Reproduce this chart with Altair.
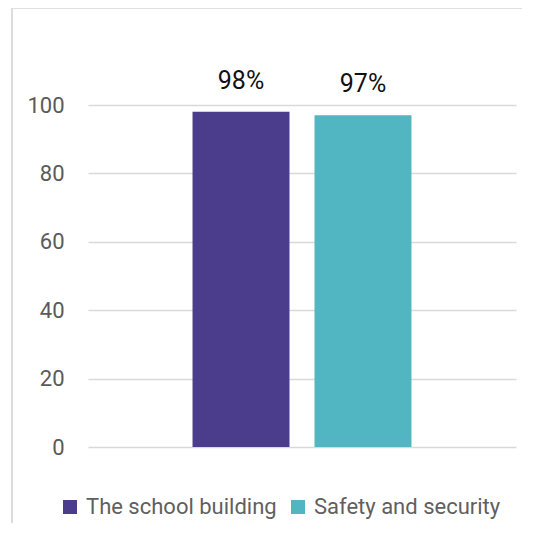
import altair as alt
import pandas as pd

categories = ["The school building", "Safety and security"]
values = [98, 97]
labels = ["98%", "97%"]
colors = ["#4b3d8c", "#52b5c2"]
y_ticks = [0, 20, 40, 60, 80, 100]

df = pd.DataFrame({"cat": categories, "val": values, "lab": labels})

FONT = "Roboto"

x_enc = alt.X("cat:N", sort=categories, axis=None,
              scale=alt.Scale(paddingInner=0.205, paddingOuter=0.857))

bars = alt.Chart(df).mark_bar().encode(
    x=x_enc,
    y=alt.Y("val:Q", scale=alt.Scale(domain=[0, 100], nice=False),
            axis=alt.Axis(values=y_ticks, title=None, domain=False, ticks=False,
                          labelFontSize=22, labelColor="#5a5a5a", labelFont=FONT,
                          labelPadding=24, gridColor="#d9d9d9", gridWidth=1.5)),
    color=alt.Color("cat:N", sort=categories,
                    scale=alt.Scale(domain=categories, range=colors),
                    legend=alt.Legend(title=None, orient="none", direction="horizontal",
                                      legendX=-29, legendY=391, symbolType="square",
                                      symbolSize=196, symbolStrokeWidth=0,
                                      labelFontSize=22, labelFont=FONT, labelLimit=400,
                                      labelColor="#5f5f5f", labelOffset=5,
                                      columnPadding=10)),
)

text = alt.Chart(df).mark_text(fontSize=25, font=FONT, color="#111111",
                               baseline="alphabetic", dy=-23).encode(
    x=x_enc,
    y="val:Q",
    text="lab:N",
)

left_border = alt.Chart(df).mark_rule(color="#dcdcdc", strokeWidth=2).encode(
    x=alt.value(-76), y=alt.value(-97), y2=alt.value(420)
)
top_border = alt.Chart(df).mark_rule(color="#dcdcdc", strokeWidth=1.5).encode(
    x=alt.value(-77), x2=alt.value(434), y=alt.value(-97)
)

chart = alt.layer(left_border, top_border, bars, text).properties(
    width=428, height=342,
    background="white",
    autosize=alt.AutoSizeParams(type="none"),
    padding={"left": 80, "top": 97, "right": 14, "bottom": 76},
).configure_view(stroke=None, strokeWidth=0)

chart.save("out.html", embed_options={"renderer": "svg", "actions": False})
